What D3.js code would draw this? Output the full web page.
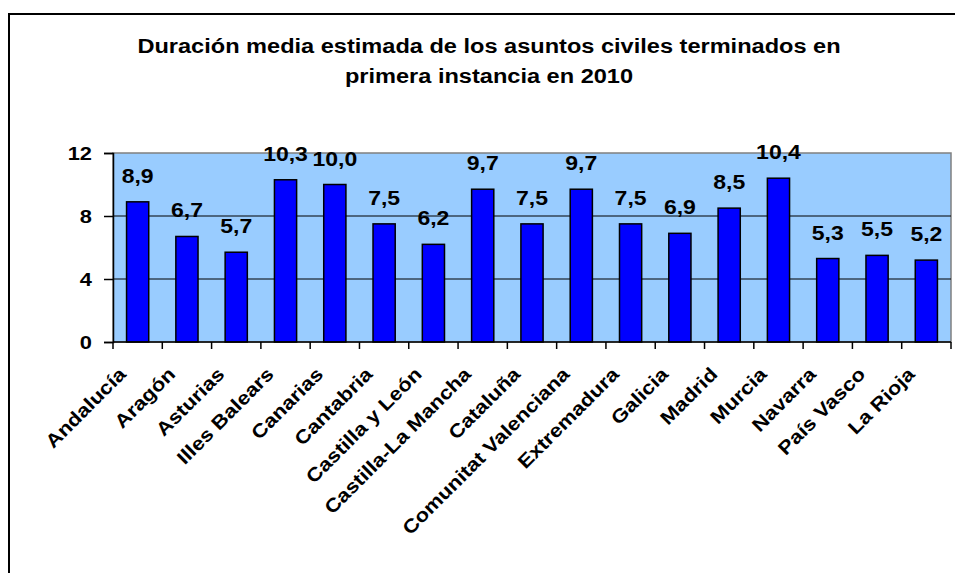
<!DOCTYPE html>
<html>
<head>
<meta charset="utf-8">
<script src="https://cdn.jsdelivr.net/npm/d3@7"></script>
<style>
  body { margin: 0; background: #fff; }
  svg { display: block; font-family: "Liberation Sans", Arial, sans-serif; font-weight: bold; }
</style>
</head>
<body>
<svg id="chart" width="955" height="573"></svg>
<script>
// data
var regions = ['Andalucía', 'Aragón', 'Asturias', 'Illes Balears', 'Canarias', 'Cantabria',
    'Castilla y León', 'Castilla-La Mancha', 'Cataluña', 'Comunitat Valenciana', 'Extremadura',
    'Galicia', 'Madrid', 'Murcia', 'Navarra', 'País Vasco', 'La Rioja'];
var durations = [8.9, 6.7, 5.7, 10.3, 10.0, 7.5, 6.2, 9.7, 7.5, 9.7, 7.5, 6.9, 8.5, 10.4, 5.3, 5.5, 5.2];
var yTicks = [0, 4, 8, 12];
var titleLines = ['Duración media estimada de los asuntos civiles terminados en',
    'primera instancia en 2010'];

var stretch = 1.15;  // the original text is drawn a bit wide

var svg = d3.select('#chart');

// outer chart frame (runs off the right and bottom)
svg.append('rect')
    .attr('x', 9).attr('y', 14)
    .attr('width', 1000).attr('height', 700)
    .attr('fill', 'none')
    .attr('stroke', '#000')
    .attr('stroke-width', 2);

var plot = {left: 113, right: 951, top: 153, bottom: 342};

var xScale = d3.scaleBand()
    .domain(regions)
    .range([plot.left, plot.right])
    .paddingInner(0.55)
    .paddingOuter(0.275);

var yScale = d3.scaleLinear()
    .domain([0, 12])
    .range([plot.bottom, plot.top]);

// title
svg.append('g')
    .selectAll('text')
    .data(titleLines)
    .enter()
    .append('text')
    .attr('transform', function(d, i) {
        return 'translate(489,' + (53 + i * 30) + ') scale(' + stretch + ',1)';
    })
    .attr('text-anchor', 'middle')
    .attr('font-size', '20.5px')
    .text(function(d) { return d; });

// plot background
svg.append('rect')
    .attr('x', plot.left).attr('y', plot.top)
    .attr('width', plot.right - plot.left)
    .attr('height', plot.bottom - plot.top)
    .attr('fill', '#99CCFF')
    .attr('stroke', '#808080')
    .attr('stroke-width', 1.5);

// gridlines
svg.append('g')
    .selectAll('line')
    .data(yTicks.filter(function(d) { return d > 0 && d < 12; }))
    .enter()
    .append('line')
    .attr('x1', plot.left).attr('x2', plot.right)
    .attr('y1', function(d) { return yScale(d); })
    .attr('y2', function(d) { return yScale(d); })
    .attr('stroke', '#000')
    .attr('stroke-width', 1);

// bars
svg.append('g')
    .selectAll('rect')
    .data(durations)
    .enter()
    .append('rect')
    .attr('x', function(d, i) { return xScale(regions[i]); })
    .attr('y', function(d) { return yScale(d); })
    .attr('width', xScale.bandwidth())
    .attr('height', function(d) { return plot.bottom - yScale(d); })
    .attr('fill', '#0000FF')
    .attr('stroke', '#000')
    .attr('stroke-width', 1.5);

// value labels
svg.append('g')
    .selectAll('text')
    .data(durations)
    .enter()
    .append('text')
    .attr('transform', function(d, i) {
        var cx = xScale(regions[i]) + xScale.bandwidth() / 2;
        return 'translate(' + cx + ',' + (yScale(d) - 19) + ') scale(' + stretch + ',1)';
    })
    .attr('text-anchor', 'middle')
    .attr('font-size', '20px')
    .text(function(d) { return d3.format('.1f')(d).replace('.', ','); });

// y axis
var yAxis = svg.append('g')
    .attr('transform', 'translate(' + plot.left + ',0)')
    .call(d3.axisLeft(yScale).tickValues(yTicks).tickSize(9).tickPadding(12));
yAxis.select('.domain').attr('stroke', '#000').attr('stroke-width', 1.5);
yAxis.selectAll('.tick line').attr('stroke-width', 1.5);
yAxis.selectAll('.tick text')
    .attr('x', null)
    .attr('transform', 'translate(-21,0) scale(' + stretch + ',1)')
    .attr('font-family', '"Liberation Sans", Arial, sans-serif')
    .attr('font-weight', 'bold')
    .attr('font-size', '19px')
    .attr('fill', '#000');

// x axis: ticks on category boundaries
var step = xScale.step();
var bounds = d3.range(regions.length + 1).map(function(i) { return plot.left + i * step; });
svg.append('line')
    .attr('x1', plot.left).attr('x2', plot.right)
    .attr('y1', plot.bottom).attr('y2', plot.bottom)
    .attr('stroke', '#000').attr('stroke-width', 1.5);
svg.append('g')
    .selectAll('line')
    .data(bounds)
    .enter()
    .append('line')
    .attr('x1', function(d) { return d; })
    .attr('x2', function(d) { return d; })
    .attr('y1', plot.bottom).attr('y2', plot.bottom + 7)
    .attr('stroke', '#000').attr('stroke-width', 1.5);

// rotated category labels
svg.append('g')
    .selectAll('text')
    .data(regions)
    .enter()
    .append('text')
    .attr('transform', function(d) {
        var cx = xScale(d) + xScale.bandwidth() / 2;
        return 'translate(' + (cx - 20) + ',' + (plot.bottom + 24) + ') rotate(-45) scale(' + stretch + ',1)';
    })
    .attr('text-anchor', 'end')
    .attr('dy', '0.7em')
    .attr('font-size', '19px')
    .text(function(d) { return d; });
</script>
</body>
</html>
